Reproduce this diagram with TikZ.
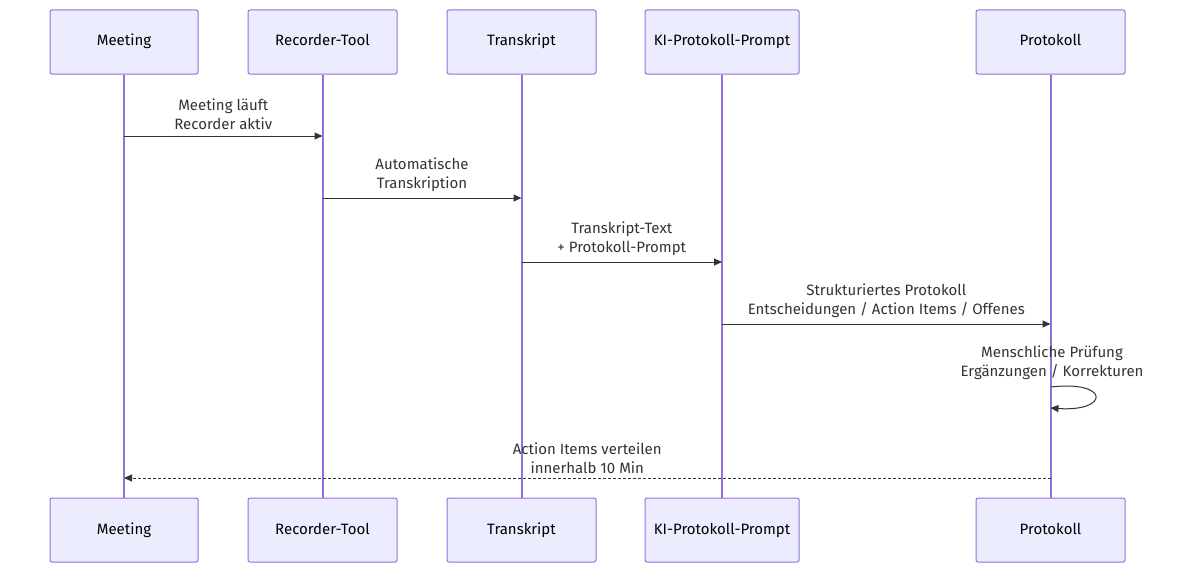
\documentclass[tikz,border=0pt]{standalone}
\usepackage{fontspec}
\setmainfont{Fira Sans}
\usetikzlibrary{arrows.meta}
\definecolor{boxfill}{HTML}{ECECFF}
\definecolor{boxline}{HTML}{9370DB}
\definecolor{txt}{HTML}{333333}
\begin{document}
\begin{tikzpicture}[x=1pt,y=-1pt,
  actor/.style={draw=boxline,fill=boxfill,rounded corners=2pt,line width=1pt,minimum height=64pt,inner sep=0pt,text height=11pt,text depth=3pt,font=\fontsize{15}{18}\selectfont,text=black},
  life/.style={draw=boxline,line width=2pt},
  msg/.style={draw=txt,line width=1pt,-{Triangle[length=8pt,width=7pt]}},
  lbl/.style={font=\fontsize{15}{19}\selectfont,text=txt,align=center,inner sep=0pt}]
\useasboundingbox (0,0) rectangle (1196,578);
\foreach \n/\t/\xa/\xb in {m/Meeting/50/198,r/Recorder-Tool/248/397,t/Transkript/447/596,k/KI-Protokoll-Prompt/645/799,p/Protokoll/976/1125}{
  \pgfmathsetmacro\w{\xb-\xa}\pgfmathsetmacro\c{(\xa+\xb)/2}
  \node[actor,minimum width=\w pt] (\n top) at (\c,42) {\t};
  \node[actor,minimum width=\w pt] (\n bot) at (\c,530) {\t};
}
\foreach \n in {m,r,t,k,p}{\draw[life] (\n top.south) -- (\n bot.north);}
\foreach \n in {m,r,t,k,p}{
  \coordinate (\n1) at (\n top.south |- 0,136);
  \coordinate (\n2) at (\n top.south |- 0,198);
  \coordinate (\n3) at (\n top.south |- 0,262);
  \coordinate (\n4) at (\n top.south |- 0,324);
  \coordinate (\n6) at (\n top.south |- 0,478);}
\draw[msg] (m1) -- (r1) node[lbl,midway,above=6pt] {Meeting läuft\\Recorder aktiv};
\draw[msg] (r2) -- (t2) node[lbl,midway,above=6pt] {Automatische\\Transkription};
\draw[msg] (t3) -- (k3) node[lbl,midway,above=6pt] {Transkript-Text\\+ Protokoll-Prompt};
\draw[msg] (k4) -- (p4) node[lbl,midway,above=6pt] {Strukturiertes Protokoll\\Entscheidungen / Action Items / Offenes};
\coordinate (s1) at (ptop.south |- 0,387);
\coordinate (s2) at (ptop.south |- 0,408);
\draw[msg] (s1) .. controls (1110,380) and (1110,412) .. (s2);
\node[lbl] at (1052,363) {Menschliche Prüfung\\Ergänzungen / Korrekturen};
\draw[msg,dashed,dash pattern=on 3pt off 2pt] (p6) -- (m6) node[lbl,midway,above=4pt] {Action Items verteilen\\innerhalb 10 Min};
\end{tikzpicture}
\end{document}
